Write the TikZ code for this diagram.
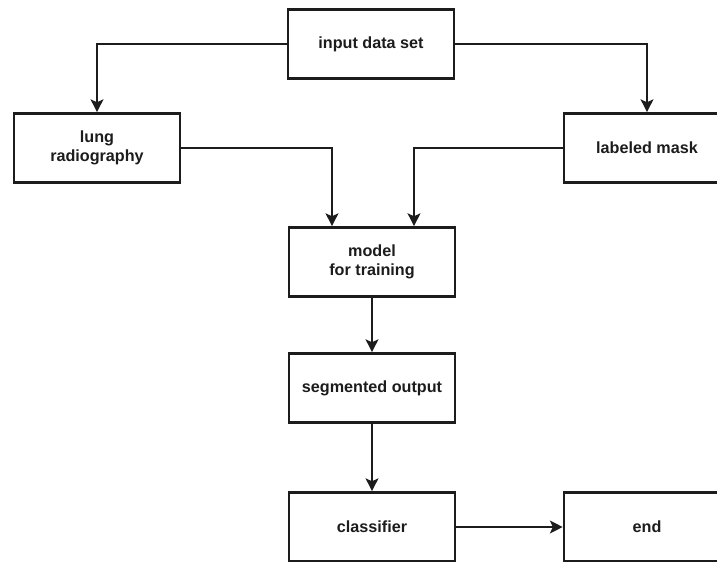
\documentclass[tikz,border=0pt]{standalone}
\usepackage{fontspec}
\setmainfont{Liberation Sans}
\usetikzlibrary{
    arrows.meta,
    positioning
}
\definecolor{ink}{RGB}{28,28,28}
\tikzset{
    stagebox/.style={
        rectangle,
        draw=ink,
        line width=1.8pt,
        fill=white,
        minimum width=4.15cm,
        minimum height=1.73cm,
        align=center,
        font=\fontsize{11.5}{13.5}\selectfont\bfseries,
        text=ink
    },
    flowarrow/.style={
        -{Stealth[length=9pt,width=9pt,inset=2pt]},
        draw=ink,
        line width=1.7pt
    }
}

\begin{document}
\begin{tikzpicture}[x=0.025cm, y=0.025cm]
% page frame (boxes at the edges are cut off)
\clip (0,0) rectangle (717,561);

% Stages
\node[stagebox] (input) at (371,517) {input data set};
\node[stagebox] (lung)  at (97,413)  {lung\\radiography};
\node[stagebox] (mask)  at (647,413) {labeled mask};
\node[stagebox] (model) at (372,299) {model\\for training};
\node[stagebox] (seg)   at (372,173) {segmented output};
\node[stagebox] (cls)   at (372,34)  {classifier};
\node[stagebox] (end)   at (647,34)  {end};

% Connectors
\coordinate (inL) at ([xshift=-1cm]model.north);
\coordinate (inR) at ([xshift=1.05cm]model.north);
\draw[flowarrow] (input.west) -| (lung.north);
\draw[flowarrow] (input.east) -| (mask.north);
\draw[flowarrow] (lung.east) -| (inL);
\draw[flowarrow] (mask.west) -| (inR);
\draw[flowarrow] (model) -- (seg);
\draw[flowarrow] (seg) -- (cls);
\draw[flowarrow] (cls) -- (end);
\end{tikzpicture}
\end{document}
